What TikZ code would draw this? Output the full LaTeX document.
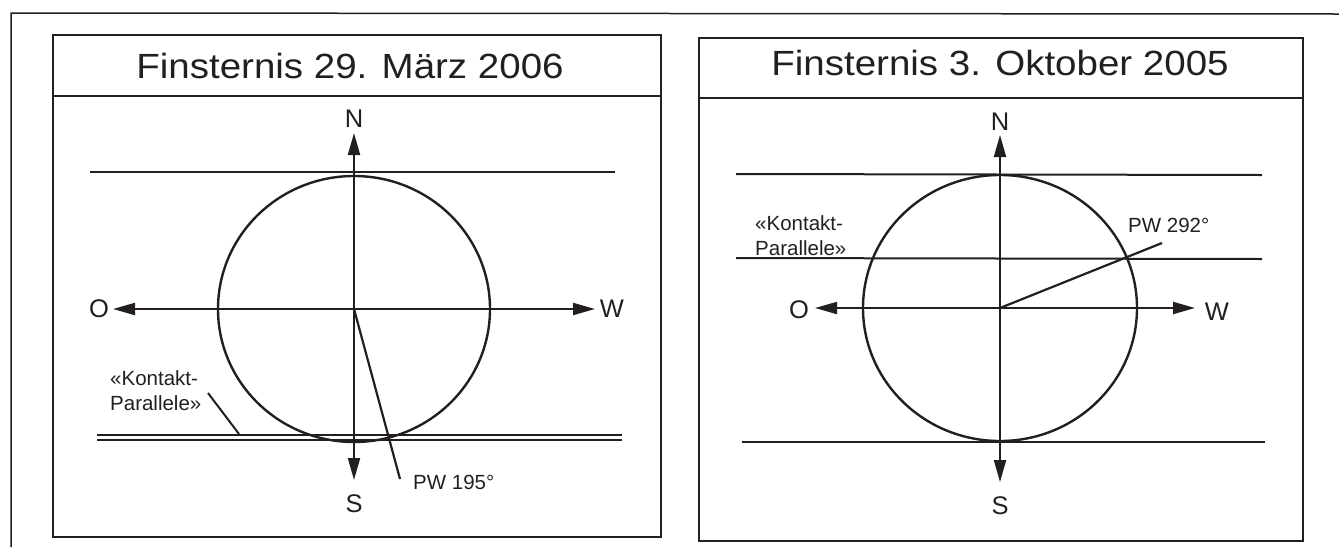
\documentclass[tikz,border=0pt]{standalone}
\usepackage{fontspec}
\setmainfont{Liberation Sans}
\newfontfamily\titlefont[FakeStretch=1.1]{Liberation Sans}
\usetikzlibrary{arrows.meta}
\definecolor{ink}{RGB}{35,31,32}

\begin{document}
\begin{tikzpicture}[x=1pt,y=-1pt,color=ink,
  outerframe/.style={draw,line width=1.5pt},
  panel/.style={draw,line width=2.5pt},
  disc/.style={draw,line width=2.4pt},
  rule/.style={draw,line width=2pt},
  axis/.style={draw,line width=2pt,{Triangle[length=22pt,width=12pt]}-{Triangle[length=22pt,width=12pt]}},
  pwline/.style={draw,line width=2.2pt},
  title/.style={font=\titlefont\fontsize{35}{40}\selectfont,text=ink,inner sep=0pt},
  dirlabel/.style={font=\fontsize{25.5}{28}\selectfont,text=ink,inner sep=0pt},
  smalllabel/.style={font=\fontsize{20.5}{24}\selectfont,text=ink,inner sep=0pt,anchor=base west},
]
\path[use as bounding box] (0,0) rectangle (1339,547);

% outer frame (runs off the right and bottom edges)
\draw[outerframe] (1339,14) -- (11,13) -- (11,547);

% ---------------- left panel: 29 March 2006 ----------------
\draw[panel] (53,35) rectangle (661,537);
\draw[panel] (53,96) -- (661,96);
\node[title,anchor=base] (titleL) at (350,78) {Finsternis 29. März 2006};

\coordinate (cL) at (354,309);
\coordinate (nTipL) at (354,133);
\coordinate (sTipL) at (354,480);
\coordinate (oTipL) at (113,309);
\coordinate (wTipL) at (595,309);
\node[dirlabel] (nL) at (354,119) {N};
\node[dirlabel] (sL) at (354,504) {S};
\node[dirlabel] (oL) at (99,309) {O};
\node[dirlabel] (wL) at (612,309) {W};

\draw[disc] (cL) ellipse [x radius=136, y radius=133];
\draw[rule] (90,172) -- (615,172);
\draw[rule] (97,435) -- (622,435);
\draw[rule] (97,440) -- (622,440);
\draw[axis] (sTipL) -- (nTipL);
\draw[axis] (oTipL) -- (wTipL);

\coordinate (pwEndL) at (400,479);
\draw[pwline] (cL) -- (pwEndL);
\node[smalllabel] (pwL) at (413,489) {PW 195°};

\node[smalllabel] (k1L) at (110,385) {«Kontakt-};
\node[smalllabel] (k2L) at (110,410) {Parallele»};
\coordinate (leadL) at (239,434);
\draw[rule] (208,393) -- (leadL);

% ---------------- right panel: 3 October 2005 ----------------
\draw[panel] (699,38) rectangle (1303,541);
\draw[panel] (699,98) -- (1303,98);
\node[title,anchor=base] (titleR) at (1000,75) {Finsternis 3. Oktober 2005};

\coordinate (cR) at (1000,308);
\coordinate (nTipR) at (1000,135);
\coordinate (sTipR) at (1000,482);
\coordinate (oTipR) at (815,308);
\coordinate (wTipR) at (1195,308);
\node[dirlabel] (nR) at (1000,122) {N};
\node[dirlabel] (sR) at (1000,506) {S};
\node[dirlabel] (oR) at (799,310) {O};
\node[dirlabel] (wR) at (1217,312) {W};

\draw[disc] (cR) ellipse [x radius=137, y radius=133];
\draw[rule] (736,174) -- (1262,175);
\draw[rule] (736,258) -- (1262,259);
\draw[rule] (742,442) -- (1265,442);
\draw[axis] (sTipR) -- (nTipR);
\draw[axis] (oTipR) -- (wTipR);

\coordinate (pwEndR) at (1162,243);
\draw[pwline] (cR) -- (pwEndR);
\node[smalllabel] (pwR) at (1128,232) {PW 292°};

\node[smalllabel] (k1R) at (755,230) {«Kontakt-};
\node[smalllabel] (k2R) at (755,255) {Parallele»};
\end{tikzpicture}
\end{document}
